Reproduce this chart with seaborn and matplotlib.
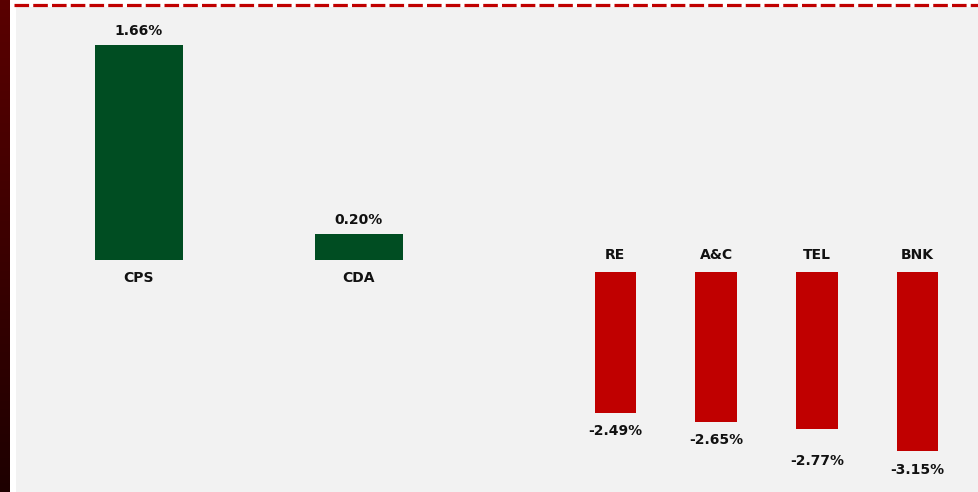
import numpy as np
import seaborn as sns
import matplotlib.pyplot as plt
from matplotlib.patches import Rectangle
from matplotlib.lines import Line2D
from matplotlib.colors import LinearSegmentedColormap

# sectors with gains / losses
up_sectors = ["CPS", "CDA"]
up_values = [1.66, 0.20]
down_sectors = ["RE", "A&C", "TEL", "BNK"]
down_values = [-2.49, -2.65, -2.77, -3.15]

GREEN = "#004d22"
RED = "#c00000"
PANEL = "#f2f2f2"

sns.set_theme(style="white")
plt.rcParams["font.family"] = ["DejaVu Sans"]
plt.rcParams["lines.scale_dashes"] = False

W, H = 979, 492
fig = plt.figure(figsize=(W / 100, H / 100), dpi=100, facecolor="white")

# grey panel, dark red strip on the left, dashed red rule on top
fig.add_artist(Rectangle((16 / W, 0), 1 - 16 / W, 1 - 7 / H, transform=fig.transFigure,
                         facecolor=PANEL, edgecolor="none", zorder=0))
strip = fig.add_axes([0, 0, 10 / W, 1])
grad = np.linspace(0, 1, 256).reshape(-1, 1)
strip.imshow(grad, aspect="auto", extent=[0, 1, 0, 1],
             cmap=LinearSegmentedColormap.from_list("s", ["#5a0000", "#1e0000"]))
strip.axis("off")
fig.add_artist(Line2D([14 / W, 1], [1 - 5 / H, 1 - 5 / H], transform=fig.transFigure,
                      color=RED, linewidth=2.3, linestyle=(0, (10.5, 3.0))))


def px_axes(left, top, right, bottom):
    return fig.add_axes([left / W, 1 - bottom / H, (right - left) / W, (bottom - top) / H])


txt = dict(ha="center", fontsize=10, fontweight="bold", color="#111111",
           textcoords="offset points")

# gainers
ax1 = px_axes(29, 14, 469, 260)
sns.barplot(x=up_sectors, y=up_values, ax=ax1, color=GREEN, width=0.4,
            saturation=1, linewidth=0)
ax1.set_xlim(-0.5, 1.5)
ax1.set_ylim(0, 1.9)
for i, v in enumerate(up_values):
    ax1.annotate(f"{v:.2f}%", (i, v), xytext=(0, 5), va="bottom", **txt)
    ax1.annotate(up_sectors[i], (i, 0), xytext=(0, -8), va="top", **txt)

# losers (the TEL label sits a bit lower in the original)
ax2 = px_axes(565, 272, 968, 476)
sns.barplot(x=down_sectors, y=down_values, ax=ax2, color=RED, width=0.41,
            saturation=1, linewidth=0)
ax2.set_xlim(-0.5, 3.5)
ax2.set_ylim(-3.6, 0)
label_drop = [8, 8, 18, 9]
for i, v in enumerate(down_values):
    ax2.annotate(f"{v:.2f}%", (i, v), xytext=(0, -label_drop[i]), va="top", **txt)
    ax2.annotate(down_sectors[i], (i, 0), xytext=(0, 7), va="bottom", **txt)

for ax in (ax1, ax2):
    ax.patch.set_alpha(0)
    ax.set_xticks([])
    ax.set_yticks([])
    ax.set_xlabel("")
    ax.set_ylabel("")
    for s in ax.spines.values():
        s.set_visible(False)

fig.savefig("out.png", dpi=100, facecolor="white")
